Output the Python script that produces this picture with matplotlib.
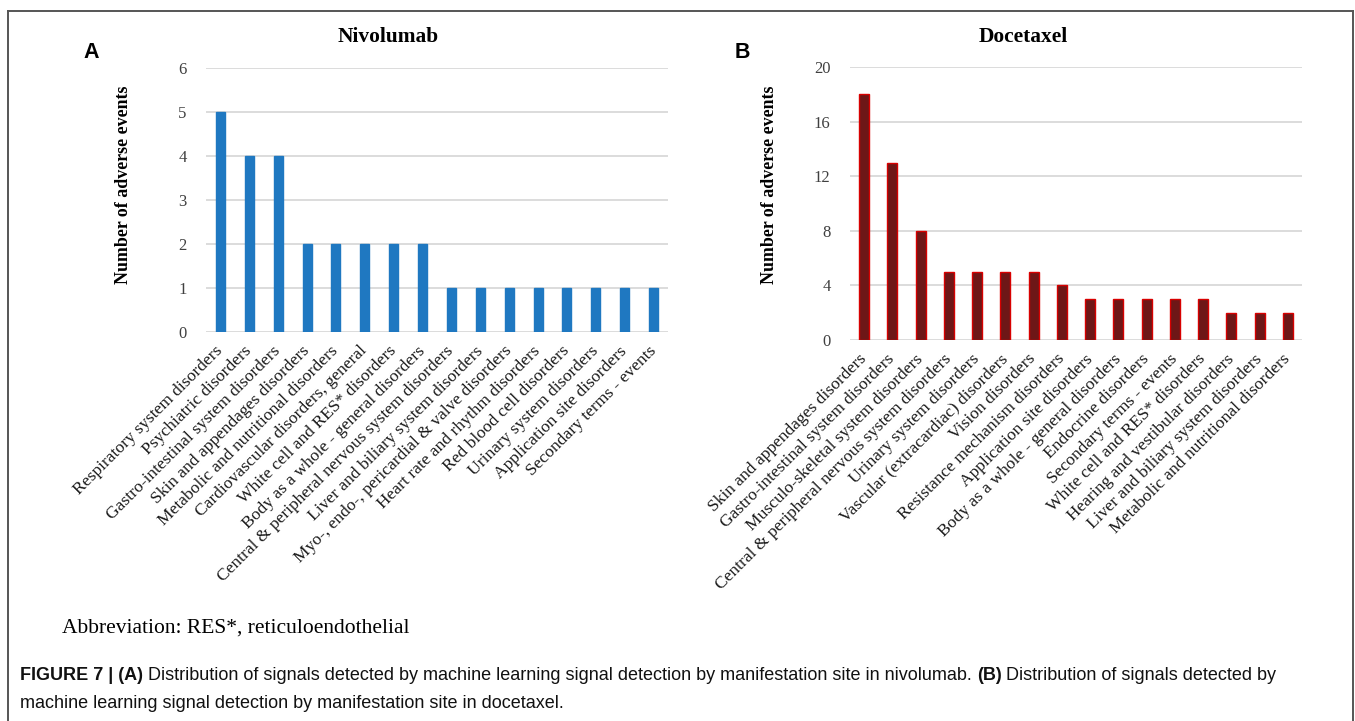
import matplotlib.pyplot as plt
from matplotlib.lines import Line2D
import numpy as np

# Nivolumab signals by manifestation site
nivo_sites = [
    'Respiratory system disorders',
    'Psychiatric disorders',
    'Gastro-intestinal system disorders',
    'Skin and appendages disorders',
    'Metabolic and nutritional disorders',
    'Cardiovascular disorders, general',
    'White cell and RES* disorders',
    'Body as a whole - general disorders',
    'Central & peripheral nervous system disorders',
    'Liver and biliary system disorders',
    'Myo-, endo-, pericardial & valve disorders',
    'Heart rate and rhythm disorders',
    'Red blood cell disorders',
    'Urinary system disorders',
    'Application site disorders',
    'Secondary terms - events',
]
nivo_counts = [5, 4, 4, 2, 2, 2, 2, 2, 1, 1, 1, 1, 1, 1, 1, 1]
nivo_ticks = [0, 1, 2, 3, 4, 5, 6]

# Docetaxel signals by manifestation site
doce_sites = [
    'Skin and appendages disorders',
    'Gastro-intestinal system disorders',
    'Musculo-skeletal system disorders',
    'Central & peripheral nervous system disorders',
    'Urinary system disorders',
    'Vascular (extracardiac) disorders',
    'Vision disorders',
    'Resistance mechanism disorders',
    'Application site disorders',
    'Body as a whole - general disorders',
    'Endocrine disorders',
    'Secondary terms - events',
    'White cell and RES* disorders',
    'Hearing and vestibular disorders',
    'Liver and biliary system disorders',
    'Metabolic and nutritional disorders',
]
doce_counts = [18, 13, 8, 5, 5, 5, 5, 4, 3, 3, 3, 3, 3, 2, 2, 2]
doce_ticks = [0, 4, 8, 12, 16, 20]

SERIF = ['Liberation Serif', 'DejaVu Serif']
SANS = ['Liberation Sans', 'DejaVu Sans']
W, H = 1355, 721


def px(x, y):
    # pixel coords (origin top-left) -> figure fraction
    return x / W, 1 - y / H


def bar_panel(fig, rect, sites, counts, ticks, width, color, edge):
    ax = fig.add_axes(rect)
    x = np.arange(len(sites))
    ax.bar(x, counts, width=width, color=color, edgecolor=edge, linewidth=1, zorder=3)
    ax.set_xlim(-0.5, len(sites) - 0.5)
    ax.set_ylim(ticks[0], ticks[-1])
    ax.set_yticks(ticks)
    ax.yaxis.grid(True, color='#d9d9d9', linewidth=1.3, zorder=0)
    ax.set_axisbelow(True)
    for s in ax.spines.values():
        s.set_visible(False)
    ax.tick_params(axis='both', length=0)
    ax.tick_params(axis='y', pad=14, labelsize=12, labelcolor='#404040')
    ax.set_xticks(x)
    ax.set_xticklabels(sites, rotation=45, ha='right', va='center',
                       rotation_mode='anchor', fontsize=12.6, family=SERIF,
                       color='#1a1a1a')
    ax.tick_params(axis='x', pad=12)
    for lab in ax.get_yticklabels():
        lab.set_family(SERIF)
    return ax


fig = plt.figure(figsize=(W / 100, H / 100), dpi=100)

# panel A
l, b = px(206, 332)
r, t = px(668, 68)
bar_panel(fig, [l, b, r - l, t - b], nivo_sites, nivo_counts, nivo_ticks,
          0.31, '#1f78c1', '#1f78c1')
# panel B
l, b = px(850, 340)
r, t = px(1302, 67)
bar_panel(fig, [l, b, r - l, t - b], doce_sites, doce_counts, doce_ticks,
          0.35, '#6e1717', '#d80000')

# titles, panel letters, y labels
for (tx, title), (lx, letter), yx in [((388, 'Nivolumab'), (91, 'A'), 123),
                                       ((1023, 'Docetaxel'), (742, 'B'), 770)]:
    fig.text(*px(tx, 37), title, ha='center', va='center', fontsize=15.4,
             fontweight='bold', family=SERIF)
    fig.text(*px(lx, 52), letter, ha='center', va='center', fontsize=15.5,
             fontweight='bold', family=SANS)
    fig.text(*px(yx, 185), 'Number of adverse events', ha='center', va='center',
             rotation=90, fontsize=12.9, fontweight='bold', family=SERIF)

fig.text(*px(62, 628), 'Abbreviation: RES*, reticuloendothelial', ha='left',
         va='center', fontsize=15.5, family=SERIF)

# caption with mixed bold / regular runs
caption = [
    [('FIGURE 7 | (A)', 'bold'),
     (' Distribution of signals detected by machine learning signal detection by '
      'manifestation site in nivolumab. ', 'normal'),
     ('(B)', 'bold'),
     (' Distribution of signals detected by', 'normal')],
    [('machine learning signal detection by manifestation site in docetaxel.', 'normal')],
]
fig.canvas.draw()
renderer = fig.canvas.get_renderer()
for row, yy in zip(caption, [675, 703]):
    x0 = 20
    for txt, weight in row:
        t_ = fig.text(*px(x0, yy), txt, ha='left', va='center', fontsize=13,
                      fontweight=weight, family=SANS, color='#111111')
        x0 = t_.get_window_extent(renderer).x1

# frame around the figure block
frame = dict(color='#555555', linewidth=1.4)
fig.add_artist(Line2D([8 / W, 1353 / W], [1 - 11 / H] * 2, **frame))
fig.add_artist(Line2D([8 / W] * 2, [0, 1 - 11 / H], **frame))
fig.add_artist(Line2D([1353 / W] * 2, [0, 1 - 11 / H], **frame))

fig.savefig('out.png', dpi=100)
